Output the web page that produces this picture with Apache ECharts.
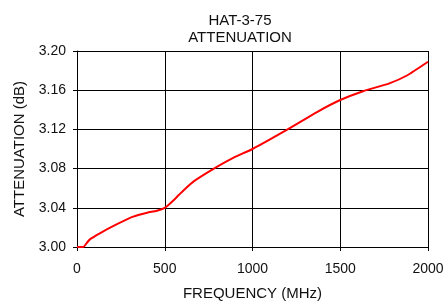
<!DOCTYPE html>
<html>
<head>
<meta charset="utf-8">
<script src="https://cdn.jsdelivr.net/npm/echarts@6/dist/echarts.min.js"></script>
<style>
  html, body { margin: 0; padding: 0; background: #fff; }
  #chart { width: 445px; height: 302px; }
</style>
</head>
<body>
<div id="chart"></div>
<script>
// data
var freq = [0, 36, 55, 75, 130, 225, 320, 400, 455, 500, 540, 580, 620, 665, 780, 890, 1000, 1200, 1370, 1500, 1630, 1780, 1880, 2000];
var atten = [3.000, 3.000, 3.004, 3.008, 3.014, 3.023, 3.031, 3.035, 3.037, 3.040, 3.046, 3.053, 3.060, 3.067, 3.080, 3.091, 3.100, 3.120, 3.138, 3.150, 3.159, 3.167, 3.175, 3.189];
var titleLines = ['HAT-3-75', 'ATTENUATION'];

var points = [];
for (var i = 0; i < freq.length; i++) {
    points.push([freq[i], atten[i]]);
}

var font = 'Liberation Sans, Arial, sans-serif';
var chart = echarts.init(document.getElementById('chart'), null, { renderer: 'canvas' });

chart.setOption({
    animation: false,
    backgroundColor: '#fff',
    title: {
        text: titleLines.join('\n'),
        left: 235,
        top: 7,
        textAlign: 'center',
        textStyle: { fontFamily: font, fontSize: 15, fontWeight: 'normal', color: '#111', lineHeight: 17 }
    },
    grid: { left: 77, right: 17, top: 51, bottom: 55, outerBoundsMode: 'none' },
    xAxis: {
        type: 'value',
        min: 0, max: 2000, interval: 500,
        name: 'FREQUENCY (MHz)',
        nameLocation: 'middle',
        nameGap: 39,
        nameTextStyle: { fontFamily: font, fontSize: 15, color: '#111' },
        axisLine: { show: true, lineStyle: { color: '#000', width: 1 } },
        axisTick: { show: true, length: 4, lineStyle: { color: '#000' } },
        axisLabel: {
            fontFamily: font, fontSize: 14, color: '#111', margin: 15,
            formatter: function (v) { return String(v); }
        },
        splitLine: { show: true, lineStyle: { color: '#000', width: 1 } }
    },
    yAxis: {
        type: 'value',
        min: 3.00, max: 3.20, interval: 0.04,
        name: 'ATTENUATION (dB)',
        nameLocation: 'middle',
        nameGap: 49,
        nameTextStyle: { fontFamily: font, fontSize: 15, color: '#111' },
        axisLine: { show: true, lineStyle: { color: '#000', width: 1 } },
        axisTick: { show: true, length: 4, lineStyle: { color: '#000' } },
        axisLabel: {
            fontFamily: font, fontSize: 14, color: '#111', margin: 11,
            formatter: function (v) { return v.toFixed(2); }
        },
        splitLine: { show: true, lineStyle: { color: '#000', width: 1 } }
    },
    series: [{
        type: 'line',
        data: points,
        smooth: 0.2,
        showSymbol: false,
        lineStyle: { color: '#ff0000', width: 2 },
        clip: true
    }]
});
</script>
</body>
</html>
